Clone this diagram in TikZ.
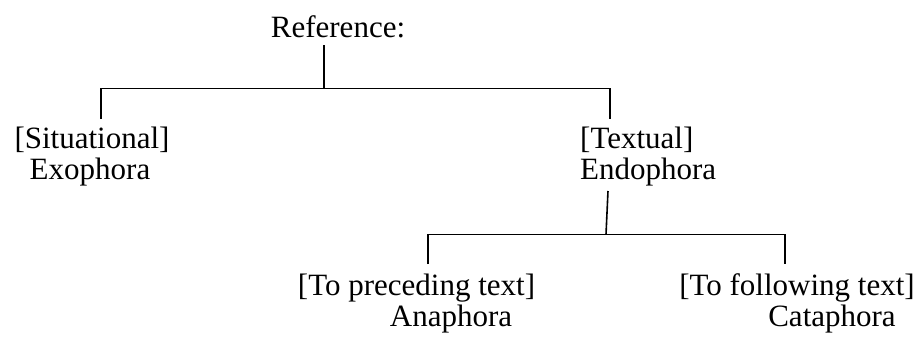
\documentclass[tikz,border=0pt]{standalone}
\usepackage{fontspec}
\setmainfont{Liberation Serif}
\begin{document}
\begin{tikzpicture}[x=1pt,y=-1pt,
  lbl/.style={inner sep=0pt,anchor=base,font=\fontsize{31}{34}\selectfont},
  lblw/.style={lbl,anchor=base west},
  conn/.style={line width=1.6pt}]
\useasboundingbox (0,0) rectangle (919,338);
% text
\node[lbl] (ref) at (338,37) {Reference:};
\node[lbl] (sit) at (92,148) {[Situational]};
\node[lbl] (exo) at (90,179) {Exophora};
\node[lblw] (tex) at (580,148) {[Textual]};
\node[lblw] (endo) at (580,179) {Endophora};
\node[lbl] (pre) at (416.5,295) {[To preceding text]};
\node[lbl] (ana) at (451,326) {Anaphora};
\node[lbl] (fol) at (797,295) {[To following text]};
\node[lbl] (cata) at (832,326) {Cataphora};
% junctions
\coordinate (rb) at (324,45);
\coordinate (rj) at (324,88.5);
\coordinate (st) at (101,119);
\coordinate (tt) at (610,119);
\coordinate (eb) at (608,191);
\coordinate (ej) at (606,234.5);
\coordinate (pt) at (428,264);
\coordinate (ft) at (785,264);
% connectors
\draw[conn] (rb) -- (rj);
\draw[conn] (st) |- (rj) -| (tt);
\draw[conn] (eb) -- (ej);
\draw[conn] (pt) |- (ej) -| (ft);
\end{tikzpicture}
\end{document}
